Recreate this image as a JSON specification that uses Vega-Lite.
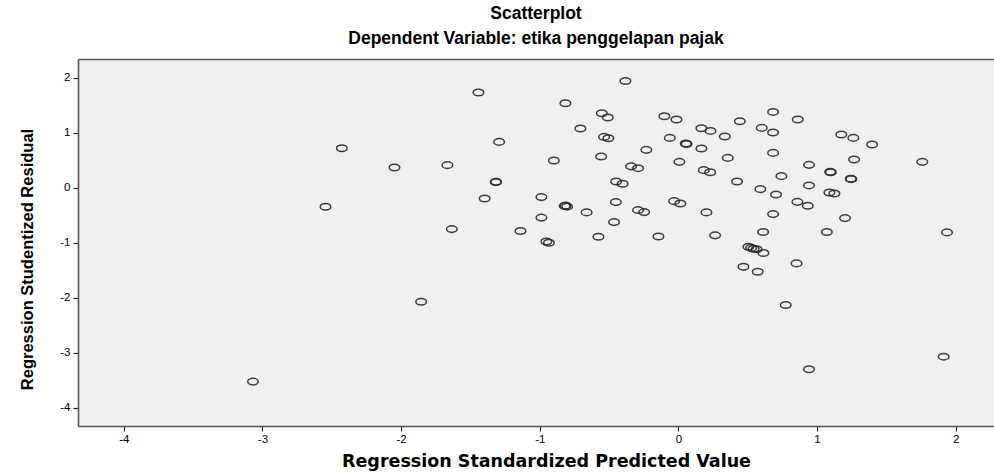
{
  "$schema": "https://vega.github.io/schema/vega-lite/v6.json",
  "width": 916,
  "height": 367,
  "autosize": {"type": "none"},
  "padding": {"left": 78, "top": 59, "right": 0, "bottom": 47},
  "background": "white",
  "title": {
    "text": "Scatterplot",
    "subtitle": "Dependent Variable: etika penggelapan pajak",
    "anchor": "middle",
    "font": "Liberation Sans",
    "fontSize": 17.5,
    "fontWeight": "bold",
    "color": "black",
    "subtitleFont": "Liberation Sans",
    "subtitleFontSize": 17.5,
    "subtitleFontWeight": "bold",
    "subtitleColor": "black",
    "subtitlePadding": 7,
    "offset": 12
  },
  "config": {
    "view": {"stroke": null, "fill": "#f0f0f0"},
    "axis": {
      "grid": false,
      "domainColor": "#555555",
      "domainWidth": 1.6,
      "tickColor": "#222222",
      "tickWidth": 1.2,
      "tickSize": 5,
      "labelFont": "Liberation Sans",
      "labelFontSize": 11.5,
      "labelColor": "black",
      "titleColor": "black",
      "titleFontWeight": "bold"
    }
  },
  "data": {
    "values": [
      {"pred": -0.382, "resid": 1.945},
      {"pred": -1.442, "resid": 1.735},
      {"pred": -0.815, "resid": 1.540},
      {"pred": -0.552, "resid": 1.358},
      {"pred": -0.509, "resid": 1.280},
      {"pred": -0.707, "resid": 1.080},
      {"pred": -0.536, "resid": 0.927},
      {"pred": -0.505, "resid": 0.904},
      {"pred": -1.293, "resid": 0.836},
      {"pred": -2.427, "resid": 0.722},
      {"pred": -2.048, "resid": 0.371},
      {"pred": -1.666, "resid": 0.413},
      {"pred": -0.898, "resid": 0.498},
      {"pred": -0.557, "resid": 0.571},
      {"pred": -0.341, "resid": 0.391},
      {"pred": -0.291, "resid": 0.358},
      {"pred": -1.314, "resid": 0.109},
      {"pred": -1.318, "resid": 0.104},
      {"pred": -0.449, "resid": 0.116},
      {"pred": -0.402, "resid": 0.073},
      {"pred": -1.397, "resid": -0.193},
      {"pred": -0.988, "resid": -0.169},
      {"pred": -0.813, "resid": -0.324},
      {"pred": -0.802, "resid": -0.342},
      {"pred": -0.820, "resid": -0.330},
      {"pred": -0.662, "resid": -0.447},
      {"pred": -0.451, "resid": -0.260},
      {"pred": -2.545, "resid": -0.345},
      {"pred": -0.988, "resid": -0.542},
      {"pred": -0.464, "resid": -0.624},
      {"pred": -1.634, "resid": -0.751},
      {"pred": -1.139, "resid": -0.787},
      {"pred": -0.577, "resid": -0.891},
      {"pred": -0.952, "resid": -0.978},
      {"pred": -0.934, "resid": -1.000},
      {"pred": -0.101, "resid": 1.304},
      {"pred": -0.014, "resid": 1.244},
      {"pred": 0.683, "resid": 1.382},
      {"pred": 0.861, "resid": 1.244},
      {"pred": 0.443, "resid": 1.213},
      {"pred": 0.166, "resid": 1.085},
      {"pred": 0.231, "resid": 1.036},
      {"pred": 0.601, "resid": 1.091},
      {"pred": 0.683, "resid": 1.007},
      {"pred": 0.335, "resid": 0.935},
      {"pred": -0.062, "resid": 0.909},
      {"pred": 1.175, "resid": 0.971},
      {"pred": 1.262, "resid": 0.909},
      {"pred": 1.397, "resid": 0.789},
      {"pred": 0.053, "resid": 0.807},
      {"pred": 0.059, "resid": 0.798},
      {"pred": 0.166, "resid": 0.716},
      {"pred": -0.231, "resid": 0.691},
      {"pred": 0.683, "resid": 0.636},
      {"pred": 0.356, "resid": 0.545},
      {"pred": 0.007, "resid": 0.473},
      {"pred": 1.267, "resid": 0.516},
      {"pred": 1.759, "resid": 0.473},
      {"pred": 0.183, "resid": 0.322},
      {"pred": 0.229, "resid": 0.285},
      {"pred": 0.942, "resid": 0.418},
      {"pred": 1.094, "resid": 0.291},
      {"pred": 1.099, "resid": 0.285},
      {"pred": 0.743, "resid": 0.213},
      {"pred": 0.423, "resid": 0.116},
      {"pred": 1.243, "resid": 0.164},
      {"pred": 1.247, "resid": 0.158},
      {"pred": 0.942, "resid": 0.044},
      {"pred": 0.591, "resid": -0.024},
      {"pred": 0.704, "resid": -0.120},
      {"pred": 1.089, "resid": -0.084},
      {"pred": 1.125, "resid": -0.102},
      {"pred": -0.031, "resid": -0.242},
      {"pred": 0.014, "resid": -0.284},
      {"pred": 0.858, "resid": -0.255},
      {"pred": 0.933, "resid": -0.327},
      {"pred": -0.291, "resid": -0.405},
      {"pred": -0.247, "resid": -0.442},
      {"pred": 0.202, "resid": -0.447},
      {"pred": 0.683, "resid": -0.478},
      {"pred": 1.202, "resid": -0.551},
      {"pred": -0.144, "resid": -0.887},
      {"pred": 0.265, "resid": -0.865},
      {"pred": 0.611, "resid": -0.805},
      {"pred": 1.070, "resid": -0.805},
      {"pred": 1.937, "resid": -0.811},
      {"pred": 0.505, "resid": -1.073},
      {"pred": 0.524, "resid": -1.093},
      {"pred": 0.542, "resid": -1.109},
      {"pred": 0.564, "resid": -1.118},
      {"pred": 0.613, "resid": -1.187},
      {"pred": 0.852, "resid": -1.375},
      {"pred": 0.469, "resid": -1.436},
      {"pred": 0.572, "resid": -1.527},
      {"pred": 0.774, "resid": -2.133},
      {"pred": 1.913, "resid": -3.073},
      {"pred": 0.942, "resid": -3.302},
      {"pred": -1.855, "resid": -2.073},
      {"pred": -3.068, "resid": -3.527}
    ]
  },
  "layer": [
    {
      "mark": {
        "type": "point",
        "shape": "M -1 0 A 1 0.62 0 1 0 1 0 A 1 0.62 0 1 0 -1 0 Z",
        "size": 112,
        "filled": false,
        "stroke": "#2a2a2a",
        "strokeWidth": 1.5,
        "opacity": 0.9
      },
      "encoding": {
        "x": {
          "field": "pred",
          "type": "quantitative",
          "scale": {"domain": [-4.33, 2.276], "nice": false, "zero": false},
          "axis": {
            "orient": "bottom",
            "values": [-4, -3, -2, -1, 0, 1, 2],
            "labelExpr": "toString(datum.value)",
            "title": "Regression Standardized Predicted Value",
            "titleFont": "DejaVu Sans",
            "titleFontSize": 17.5,
            "titlePadding": 8,
            "titleX": 468,
            "labelPadding": 2
          }
        },
        "y": {
          "field": "resid",
          "type": "quantitative",
          "scale": {"domain": [-4.335, 2.345], "nice": false, "zero": false},
          "axis": {
            "values": [-4, -3, -2, -1, 0, 1, 2],
            "labelExpr": "toString(datum.value)",
            "title": "Regression Studentized Residual",
            "titleFont": "Liberation Sans",
            "titleFontSize": 16.5,
            "titlePadding": 24,
            "titleY": 200,
            "labelPadding": 3
          }
        }
      }
    },
    {
      "mark": {"type": "point", "opacity": 0},
      "encoding": {
        "x": {
          "field": "pred",
          "type": "quantitative",
          "axis": {"orient": "top", "labels": false, "ticks": false, "title": null}
        }
      }
    }
  ],
  "resolve": {"axis": {"x": "independent"}}
}
